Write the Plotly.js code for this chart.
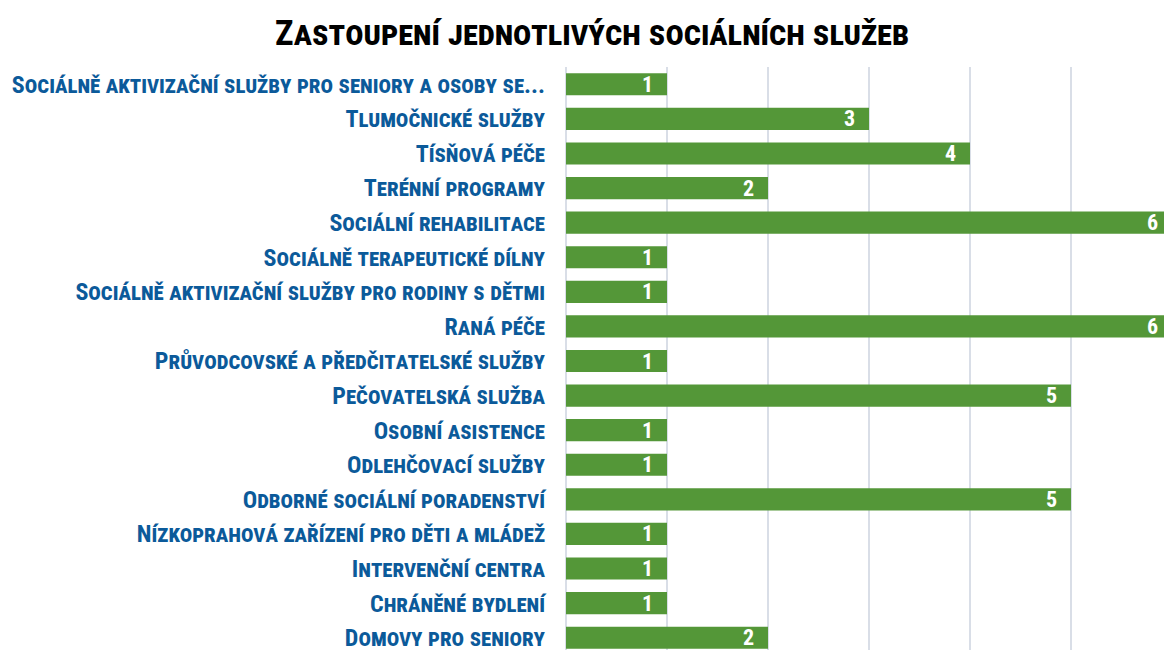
<!DOCTYPE html>
<html>
<head>
<meta charset="utf-8">
<script src="https://cdn.plot.ly/plotly-3.0.1.min.js"></script>
<style>html,body{margin:0;padding:0;background:#fff;width:1164px;height:650px;overflow:hidden;}</style>
</head>
<body>
<div id="chart" style="width:1172px;height:655px;"></div>
<script>
const categories = [
  "Sociálně aktivizační služby pro seniory a osoby se...",
  "Tlumočnické služby",
  "Tísňová péče",
  "Terénní programy",
  "Sociální rehabilitace",
  "Sociálně terapeutické dílny",
  "Sociálně aktivizační služby pro rodiny s dětmi",
  "Raná péče",
  "Průvodcovské a předčitatelské služby",
  "Pečovatelská služba",
  "Osobní asistence",
  "Odlehčovací služby",
  "Odborné sociální poradenství",
  "Nízkoprahová zařízení pro děti a mládež",
  "Intervenční centra",
  "Chráněné bydlení",
  "Domovy pro seniory"
];
const values = [1, 3, 4, 2, 6, 1, 1, 6, 1, 5, 1, 1, 5, 1, 1, 1, 2];
const titleText = "Zastoupení jednotlivých sociálních služeb";

const narrow = "'Roboto Condensed', 'Open Sans Condensed', 'DejaVu Sans Condensed', sans-serif";
const W = 1172;
const H = 655;

const trace = {
  type: 'bar',
  orientation: 'h',
  y: categories.map((c, i) => i),
  x: values,
  marker: {color: '#549738'},
  width: 0.64,
  hoverinfo: 'skip',
  cliponaxis: true
};

const valueLabels = values.map((v, i) => ({
  x: v, y: i, xref: 'x', yref: 'y',
  text: String(v),
  showarrow: false,
  xanchor: 'right', yanchor: 'middle',
  xshift: -12,
  font: {family: narrow, size: 22, color: '#ffffff', weight: 'bold'}
}));

const layout = {
  width: W,
  height: H,
  margin: {l: 566, r: 0, t: 67, b: 0, pad: 0},
  paper_bgcolor: '#ffffff',
  plot_bgcolor: '#ffffff',
  showlegend: false,
  annotations: valueLabels,
  title: {
    text: titleText,
    font: {family: narrow, size: 35, color: '#000000', weight: 'bold', variant: 'small-caps'},
    x: 592 / W, xanchor: 'center', xref: 'container',
    y: 1 - 33 / H, yanchor: 'middle', yref: 'container'
  },
  xaxis: {
    range: [0, 6],
    showgrid: true,
    gridcolor: '#D9DEE7',
    gridwidth: 1.5,
    dtick: 1,
    tick0: 0,
    showticklabels: false,
    zeroline: true,
    zerolinecolor: '#D9DEE7',
    zerolinewidth: 1.5,
    showline: false,
    fixedrange: true
  },
  yaxis: {
    range: [16.5, -0.5],
    tickmode: 'array',
    tickvals: categories.map((c, i) => i),
    ticktext: categories,
    showgrid: false,
    zeroline: false,
    showline: false,
    ticks: '',
    ticklabelstandoff: 20,
    tickfont: {family: narrow, size: 24, color: '#0B5A9A', weight: 'bold', variant: 'small-caps'},
    automargin: false,
    fixedrange: true
  }
};

Plotly.newPlot('chart', [trace], layout, {displayModeBar: false, staticPlot: true});
</script>
</body>
</html>
